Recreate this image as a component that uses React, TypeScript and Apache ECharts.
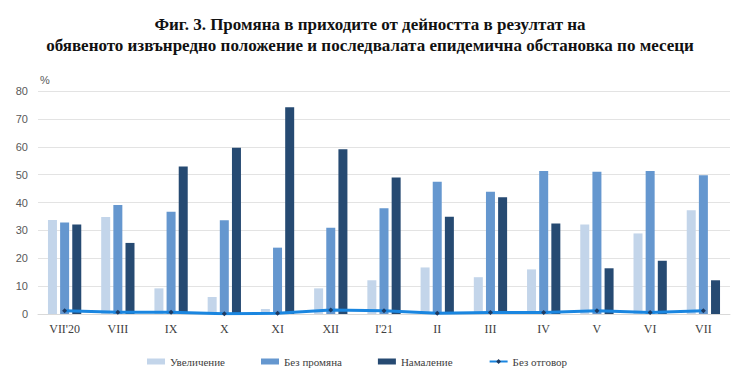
import React, { useEffect, useRef } from "react";
import * as echarts from "echarts";

const titleLines = [
  "Фиг. 3. Промяна в приходите от дейността в резултат на",
  "обявеното извънредно положение и последвалата епидемична обстановка по месеци",
];
const months = ["VII'20", "VIII", "IX", "X", "XI", "XII", "I'21", "II", "III", "IV", "V", "VI", "VII"];
const increase = [33.7, 34.8, 9.2, 6.1, 1.8, 9.2, 12.1, 16.7, 13.2, 16.0, 32.1, 28.9, 37.2];
const noChange = [32.8, 39.1, 36.7, 33.6, 23.8, 30.9, 37.9, 47.4, 43.9, 51.3, 51.0, 51.3, 49.8];
const decrease = [32.1, 25.5, 52.9, 59.6, 74.2, 59.1, 49.0, 34.9, 41.9, 32.5, 16.4, 19.1, 12.1];
const noAnswer = [1.2, 0.6, 0.6, 0.1, 0.3, 1.4, 1.2, 0.3, 0.5, 0.5, 1.2, 0.5, 1.2];
const yTicks = [0, 10, 20, 30, 40, 50, 60, 70, 80];

const serif = "Liberation Serif";

export default function App() {
  const ref = useRef<HTMLDivElement>(null);
  useEffect(() => {
    if (!ref.current) return;
    const chart = echarts.init(ref.current, null, { renderer: "svg" });
    chart.setOption({
      animation: false,
      backgroundColor: "#ffffff",
      title: {
        text: titleLines.join("\n"),
        left: "center",
        top: 9,
        textStyle: {
          fontFamily: serif,
          fontWeight: "bold",
          fontSize: 17,
          lineHeight: 21,
          color: "#111",
        },
      },
      graphic: [
        {
          type: "text",
          left: 40,
          top: 74,
          style: { text: "%", fontFamily: "Arial, sans-serif", fontSize: 11, fill: "#595959" },
        },
      ],
      legend: {
        left: 142,
        top: 351,
        itemWidth: 18,
        itemHeight: 6,
        itemGap: 36,
        textStyle: { fontFamily: serif, fontSize: 11, color: "#404040" },
        data: [
          { name: "Увеличение", icon: "rect" },
          { name: "Без промяна", icon: "rect" },
          { name: "Намаление", icon: "rect" },
          { name: "Без отговор" },
        ],
      },
      grid: { left: 38, right: 10, top: 91, bottom: 73 },
      xAxis: {
        type: "category",
        data: months,
        axisTick: { show: false },
        axisLine: { lineStyle: { color: "#d9d9d9" } },
        axisLabel: { fontFamily: serif, fontSize: 12, color: "#404040", margin: 9 },
      },
      yAxis: {
        type: "value",
        min: yTicks[0],
        max: yTicks[yTicks.length - 1],
        interval: 10,
        axisLine: { show: false },
        axisTick: { show: false },
        splitLine: { lineStyle: { color: "#e3e3e3", width: 1 } },
        axisLabel: { fontFamily: "Arial, sans-serif", fontSize: 11, color: "#595959", margin: 10 },
      },
      series: [
        {
          name: "Увеличение",
          type: "bar",
          data: increase,
          barWidth: 9,
          barGap: "35%",
          itemStyle: { color: "#c3d5ea" },
        },
        {
          name: "Без промяна",
          type: "bar",
          data: noChange,
          barWidth: 9,
          barGap: "35%",
          itemStyle: { color: "#6597cf" },
        },
        {
          name: "Намаление",
          type: "bar",
          data: decrease,
          barWidth: 9,
          barGap: "35%",
          itemStyle: { color: "#264a72" },
        },
        {
          name: "Без отговор",
          type: "line",
          data: noAnswer,
          symbol: "diamond",
          symbolSize: 5,
          showSymbol: true,
          lineStyle: { color: "#1a86e0", width: 3 },
          itemStyle: { color: "#1f3a60", borderWidth: 0 },
          z: 5,
        },
      ],
    });
    return () => chart.dispose();
  }, []);
  return <div ref={ref} style={{ width: 740, height: 387, margin: -8 }} />;
}
